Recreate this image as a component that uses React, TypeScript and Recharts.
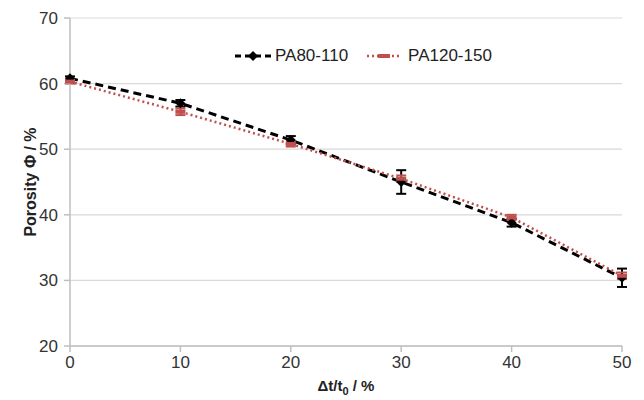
import React from 'react'
import {
  LineChart,
  Line,
  XAxis,
  YAxis,
  CartesianGrid,
  ErrorBar,
} from 'recharts'

const timeSteps = [0, 10, 20, 30, 40, 50]
const pa80 = [60.8, 57.0, 51.4, 45.0, 38.8, 30.4]
const pa80Err = [0.3, 0.5, 0.6, 1.8, 0.6, 1.4]
const pa120 = [60.3, 55.7, 50.8, 45.5, 39.6, 30.7]
const pa120Err = [0.3, 0.5, 0.4, 0.5, 0.4, 0.5]
const yTicks = [20, 30, 40, 50, 60, 70]

const data = timeSteps.map((t, i) => ({
  t,
  pa80: pa80[i],
  pa80Err: pa80Err[i],
  pa120: pa120[i],
  pa120Err: pa120Err[i],
}))

const font = '"Liberation Sans", Arial, sans-serif'
const red = '#c0504d'

const Diamond = (props: any) => {
  const { cx, cy, index } = props
  if (cx == null || cy == null) return null
  return (
    <path
      key={'d' + index}
      d={`M${cx},${cy - 5} L${cx + 5},${cy} L${cx},${cy + 5} L${cx - 5},${cy} Z`}
      fill="#000"
    />
  )
}

const Dash = (props: any) => {
  const { cx, cy, index } = props
  if (cx == null || cy == null) return null
  return <rect key={'r' + index} x={cx - 5} y={cy - 2} width={10} height={4} fill={red} />
}

const LegendBox = () => (
  <div
    style={{
      position: 'absolute',
      left: 234,
      top: 46,
      display: 'flex',
      alignItems: 'center',
      fontFamily: font,
      fontSize: 17,
      color: '#222',
      whiteSpace: 'nowrap',
    }}
  >
    <svg width={38} height={12}>
      <line x1={1} y1={6} x2={37} y2={6} stroke="#000" strokeWidth={3} strokeDasharray="6 4" />
      <path d="M19,1 L24,6 L19,11 L14,6 Z" fill="#000" />
    </svg>
    <span style={{ marginLeft: 3 }}>PA80-110</span>
    <svg width={36} height={12} style={{ marginLeft: 18 }}>
      <line x1={1} y1={6} x2={35} y2={6} stroke={red} strokeWidth={2.5} strokeDasharray="2 3" />
      <rect x={12} y={4} width={12} height={4} fill={red} />
    </svg>
    <span style={{ marginLeft: 6 }}>PA120-150</span>
  </div>
)

const YTitle = () => {
  const x = 30
  const y = 182
  return (
    <text
      x={x}
      y={y}
      transform={`rotate(-90 ${x} ${y})`}
      textAnchor="middle"
      dominantBaseline="central"
      fontFamily={font}
      fontSize={16}
      fontWeight="bold"
      fill="#222"
    >
      Porosity Φ / %
    </text>
  )
}

const XTitle = () => (
  <text x={346} y={391} textAnchor="middle" fontFamily={font} fontSize={15} fontWeight="bold" fill="#222">
    Δt/t
    <tspan fontSize={11} dy={4}>0</tspan>
    <tspan dy={-4}> / %</tspan>
  </text>
)

export default function App() {
  return (
    <div style={{ position: 'absolute', left: 0, top: 0, width: 644, height: 400, background: '#fff' }}>
      <LineChart
        width={644}
        height={400}
        data={data}
        margin={{ top: 18, right: 22, bottom: 0, left: 0 }}
      >
        <CartesianGrid vertical={false} stroke="#d9d9d9" strokeWidth={1.2} />
        <XAxis
          dataKey="t"
          type="number"
          domain={[0, 50]}
          ticks={timeSteps}
          height={54}
          stroke="#bfbfbf"
          strokeWidth={1.5}
          tickSize={6}
          tickMargin={4}
          tick={{ fontFamily: font, fontSize: 17, fill: '#333' }}
          label={<XTitle />}
        />
        <YAxis
          type="number"
          domain={[20, 70]}
          ticks={yTicks}
          width={70}
          stroke="#bfbfbf"
          strokeWidth={1.5}
          tickSize={6}
          tickMargin={6}
          tick={{ fontFamily: font, fontSize: 17, fill: '#333' }}
          label={<YTitle />}
        />
        <Line
          dataKey="pa80"
          name="PA80-110"
          stroke="#000"
          strokeWidth={3}
          strokeDasharray="8 5"
          dot={<Diamond />}
          activeDot={false}
          isAnimationActive={false}
        >
          <ErrorBar dataKey="pa80Err" direction="y" width={5} stroke="#000" strokeWidth={2} />
        </Line>
        <Line
          dataKey="pa120"
          name="PA120-150"
          stroke={red}
          strokeWidth={2.5}
          strokeDasharray="2 3"
          dot={<Dash />}
          activeDot={false}
          isAnimationActive={false}
        >
          <ErrorBar dataKey="pa120Err" direction="y" width={5} stroke={red} strokeWidth={2} />
        </Line>
      </LineChart>
      <LegendBox />
    </div>
  )
}
